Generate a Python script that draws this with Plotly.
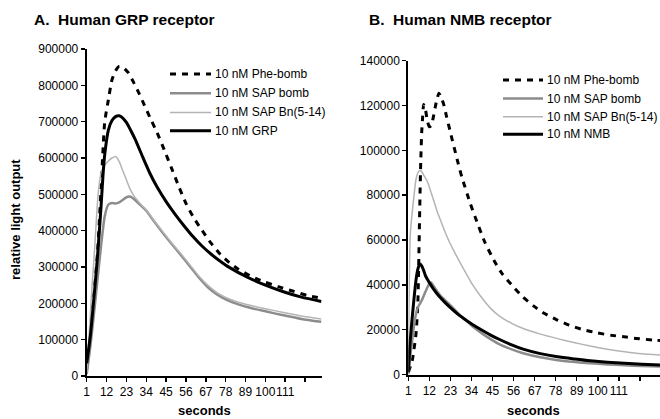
import plotly.graph_objects as go

# ---------------- data ----------------
series_names_a = ["10 nM Phe-bomb", "10 nM SAP bomb", "10 nM SAP Bn(5-14)", "10 nM GRP"]
series_names_b = ["10 nM Phe-bomb", "10 nM SAP bomb", "10 nM SAP Bn(5-14)", "10 nM NMB"]

# Panel A: Human GRP receptor
a_phe_s = [1, 3, 5, 7, 9, 10, 11, 13, 15, 17, 19, 21, 24, 27, 30, 33, 36, 40, 44, 48, 52, 56, 60, 65, 70, 75, 80, 85, 90, 95, 100, 107, 115, 123, 131]
a_phe_v = [20000, 110000, 220000, 340000, 520000, 620000, 700000, 760000, 815000, 840000, 852000, 850000, 835000, 808000, 778000, 745000, 712000, 670000, 622000, 572000, 522000, 475000, 438000, 400000, 365000, 335000, 312000, 294000, 280000, 268000, 258000, 246000, 234000, 222000, 214000]

a_sapb_s = [1, 3, 5, 7, 9, 11, 13, 15, 17, 19, 21, 23, 25, 27, 30, 34, 38, 43, 48, 53, 58, 63, 68, 73, 78, 85, 92, 100, 110, 120, 131]
a_sapb_v = [5000, 80000, 170000, 265000, 360000, 440000, 472000, 476000, 475000, 478000, 485000, 492000, 494000, 488000, 474000, 455000, 428000, 395000, 364000, 334000, 303000, 272000, 245000, 225000, 211000, 197000, 187000, 178000, 167000, 157000, 149000]

a_bn_s = [1, 2, 3, 4, 5, 6, 7, 8, 9, 11, 13, 15, 17, 19, 21, 23, 25, 27, 30, 34, 38, 43, 48, 53, 58, 63, 68, 73, 78, 85, 92, 100, 110, 120, 131]
a_bn_v = [10000, 80000, 170000, 250000, 320000, 400000, 480000, 530000, 560000, 580000, 592000, 600000, 604000, 590000, 565000, 540000, 515000, 497000, 478000, 457000, 430000, 398000, 367000, 338000, 307000, 276000, 250000, 230000, 216000, 203000, 194000, 185000, 175000, 165000, 157000]

a_grp_s = [1, 3, 5, 7, 9, 10, 11, 13, 15, 17, 19, 21, 23, 25, 28, 32, 36, 40, 45, 50, 55, 60, 65, 70, 75, 80, 90, 100, 110, 120, 131]
a_grp_v = [35000, 110000, 215000, 330000, 470000, 550000, 610000, 677000, 703000, 714000, 716000, 710000, 698000, 680000, 650000, 603000, 558000, 520000, 480000, 445000, 413000, 383000, 357000, 335000, 316000, 299000, 272000, 250000, 232000, 217000, 205000]

# Panel B: Human NMB receptor
b_phe_s = [1, 3, 5, 6, 6.5, 7, 7.5, 8, 8.5, 9, 10, 11, 12, 13, 14, 15, 16, 17, 18, 19.5, 21, 23, 26.5, 29, 33.5, 36.6, 41, 45.7, 50, 56, 61, 66.6, 72, 78.8, 85, 92.7, 100, 107, 113.7, 120, 128.6, 133]
b_phe_v = [1000, 6000, 18000, 32000, 52000, 75000, 95000, 108000, 115000, 120500, 118000, 113000, 110500, 111000, 114500, 119000, 123000, 125500, 124000, 120500, 115000, 108000, 96000, 88000, 76000, 68700, 59000, 51000, 45000, 39000, 34500, 30500, 27300, 24300, 22000, 19900, 18500, 17500, 16800, 16100, 15400, 15100]

b_sapb_s = [1, 2, 3, 4, 5, 6, 8, 10, 12, 13, 15, 18, 21, 24, 28, 32, 36, 40, 44, 49, 55, 61, 70, 79, 88, 96, 105, 114, 123, 133]
b_sapb_v = [0, 8000, 15000, 22000, 27000, 30000, 33000, 37000, 40500, 41000, 38500, 35000, 32500, 30000, 26500, 23500, 20500, 18000, 15800, 13300, 11200, 9500, 7700, 6400, 5600, 5000, 4500, 4100, 3800, 3500]

b_bn_s = [1, 1.5, 2, 3, 4, 5, 6, 7, 8, 9, 11, 13, 14.3, 16, 18, 20, 22, 24.6, 28, 31.6, 35, 38.7, 44, 49, 55, 61, 70, 79, 88, 96, 105, 114, 123, 133]
b_bn_v = [5000, 40000, 62000, 72000, 80000, 87000, 90000, 91000, 90500, 89000, 86000, 81000, 77500, 73000, 68500, 64000, 60000, 55500, 50000, 44500, 39500, 35000, 29500, 25800, 22800, 20500, 18000, 16000, 14200, 12700, 11300, 10200, 9300, 8700]

b_nmb_s = [1, 1.5, 2, 3, 4, 5, 6, 7, 8, 9, 10, 12, 14.3, 17, 20, 23, 27, 31.6, 36, 40, 44, 49, 55, 61, 70, 79, 88, 96, 105, 114, 123, 133]
b_nmb_v = [1000, 8000, 15000, 25000, 34000, 42000, 47000, 49400, 48500, 46500, 44000, 41000, 38000, 35000, 32300, 29800, 26800, 24000, 21500, 19500, 17600, 15500, 13200, 11300, 9300, 7900, 6900, 6100, 5500, 5000, 4600, 4200]

x_tick_vals = [1, 12, 23, 34, 45, 56, 67, 78, 89, 100, 111, 122]
x_tick_text = ["1", "12", "23", "34", "45", "56", "67", "78", "89", "100", "111", ""]
a_y_ticks = [0, 100000, 200000, 300000, 400000, 500000, 600000, 700000, 800000, 900000]
b_y_ticks = [0, 20000, 40000, 60000, 80000, 100000, 120000, 140000]

# ---------------- styling ----------------
FONT = "Liberation Sans, Arial, Helvetica, sans-serif"
W, H = 660, 419
styles = [
    dict(color="black", width=3, dash="6px,6px"),
    dict(color="#8c8c8c", width=2.5),
    dict(color="#b4b4b4", width=1.5),
    dict(color="black", width=3),
]


def px_x(p):
    return p / W


def px_y(p):
    return (H - p) / H


fig = go.Figure()

a_data = [(a_phe_s, a_phe_v), (a_sapb_s, a_sapb_v), (a_bn_s, a_bn_v), (a_grp_s, a_grp_v)]
b_data = [(b_phe_s, b_phe_v), (b_sapb_s, b_sapb_v), (b_bn_s, b_bn_v), (b_nmb_s, b_nmb_v)]

for (s, v), name, st in zip(a_data, series_names_a, styles):
    fig.add_trace(go.Scatter(x=s, y=v, name=name, mode="lines", showlegend=False,
                             line=dict(shape="spline", smoothing=0.6, **st), xaxis="x", yaxis="y"))
for (s, v), name, st in zip(b_data, series_names_b, styles):
    fig.add_trace(go.Scatter(x=s, y=v, name=name, mode="lines", showlegend=False,
                             line=dict(shape="spline", smoothing=0.5, **st), xaxis="x2", yaxis="y2"))

ax_common = dict(showgrid=False, zeroline=False, showline=True, linecolor="black", linewidth=2,
                 ticks="outside", ticklen=4, tickwidth=1.5, tickcolor="black", automargin=False,
                 tickfont=dict(family=FONT, size=12, color="black"))
in_common = dict(showgrid=False, zeroline=False, showline=False, ticks="inside", ticklen=4,
                 tickwidth=1.5, tickcolor="black", showticklabels=False, automargin=False)

a_x_dom = [px_x(86.7), px_x(321.7)]
a_y_dom = [px_y(376), px_y(49)]
b_x_dom = [px_x(408.3), 1.0]
b_y_dom = [px_y(374.5), px_y(60.7)]
a_x_range = [1, 131.2]
b_x_range = [1, 132.5]

fig.update_layout(
    width=W, height=H, margin=dict(l=0, r=0, t=0, b=0),
    paper_bgcolor="white", plot_bgcolor="white",
    font=dict(family=FONT, size=12, color="black"),
    showlegend=False,
    xaxis=dict(domain=a_x_dom, anchor="y", range=a_x_range, tickmode="array", tickangle=0,
               tickvals=x_tick_vals, ticktext=x_tick_text, **ax_common),
    yaxis=dict(domain=a_y_dom, anchor="x", range=[0, 900000], tickmode="array",
               tickvals=a_y_ticks, ticktext=[str(t) for t in a_y_ticks], **ax_common),
    xaxis2=dict(domain=b_x_dom, anchor="y2", range=b_x_range, tickmode="array", tickangle=0,
                tickvals=x_tick_vals, ticktext=x_tick_text, **ax_common),
    yaxis2=dict(domain=b_y_dom, anchor="x2", range=[0, 140000], tickmode="array",
                tickvals=b_y_ticks, ticktext=[str(t) for t in b_y_ticks], **ax_common),
    xaxis3=dict(overlaying="x", anchor="y", range=a_x_range, tickmode="array", tickvals=x_tick_vals, **in_common),
    yaxis3=dict(overlaying="y", anchor="x", range=[0, 900000], tickmode="array", tickvals=a_y_ticks, **in_common),
    xaxis4=dict(overlaying="x2", anchor="y2", range=b_x_range, tickmode="array", tickvals=x_tick_vals, **in_common),
    yaxis4=dict(overlaying="y2", anchor="x2", range=[0, 140000], tickmode="array", tickvals=b_y_ticks, **in_common),
)

annotations = [
    dict(text="<b>A.  Human GRP receptor</b>", x=px_x(32), y=px_y(19), xanchor="left", yanchor="middle",
         font=dict(family=FONT, size=15.5, color="black")),
    dict(text="<b>B.  Human NMB receptor</b>", x=px_x(367), y=px_y(19), xanchor="left", yanchor="middle",
         font=dict(family=FONT, size=15.5, color="black")),
    dict(text="<b>relative light output</b>", x=px_x(15), y=px_y(220), textangle=-90,
         xanchor="center", yanchor="middle", font=dict(family=FONT, size=13, color="black")),
    dict(text="<b>seconds</b>", x=px_x(204), y=px_y(410), xanchor="center", yanchor="middle",
         font=dict(family=FONT, size=13, color="black")),
    dict(text="<b>seconds</b>", x=px_x(533), y=px_y(410), xanchor="center", yanchor="middle",
         font=dict(family=FONT, size=13, color="black")),
]

# manual legends (sample line + label text)
shapes = []
legend_a_rows = [74, 93.3, 112.5, 130.7]
legend_b_rows = [80, 98.5, 116.7, 134.3]
for names, rows, x0, x1 in [(series_names_a, legend_a_rows, 170, 211), (series_names_b, legend_b_rows, 503, 543)]:
    for name, ry, st in zip(names, rows, styles):
        shapes.append(dict(type="line", xref="paper", yref="paper", x0=px_x(x0), x1=px_x(x1),
                           y0=px_y(ry), y1=px_y(ry), line=dict(**st)))
        annotations.append(dict(text=name, x=px_x(x1 + 2), y=px_y(ry), xanchor="left", yanchor="middle",
                                font=dict(family=FONT, size=12, color="black")))

for a in annotations:
    a.update(xref="paper", yref="paper", showarrow=False)
fig.update_layout(annotations=annotations, shapes=shapes)

fig.write_html("out.html", config={"displayModeBar": False, "staticPlot": True},
               post_script="document.body.style.margin='0';")
